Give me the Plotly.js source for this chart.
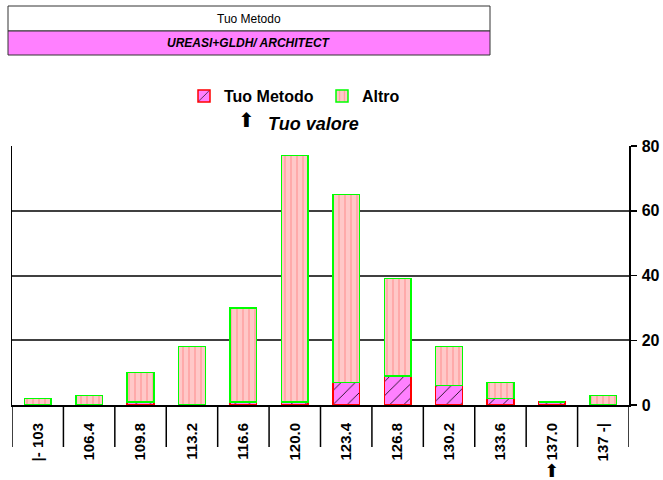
<!DOCTYPE html>
<html><head><meta charset="utf-8">
<script src="https://cdn.plot.ly/plotly-3.0.1.min.js"></script>
<style>body{margin:0;background:#fff}</style>
</head><body><div id="chart" style="width:663px;height:480px"></div>
<script>
const categories = ["|- 103","106.4","109.8","113.2","116.6","120.0","123.4","126.8","130.2","133.6","137.0","137 -|"];
const tuoMetodo = [0,0,1,0,1,1,7,9,6,2,1,0];
const altro = [2,3,9,18,29,76,58,30,12,5,0,3];
const yTicks = [0,20,40,60,80];
const seriesNames = ["Tuo Metodo","Altro"];
const methodTitle = "Tuo Metodo";
const methodName = "UREASI+GLDH/ ARCHITECT";
const yourValueLabel = "Tuo valore";
const yourValueCategory = "137.0";

const FONT = "Arial, 'Liberation Sans', sans-serif";
const W = 663, H = 480, L = 12, R = 34, T = 146, B = 75;
const pw = W - L - R, ph = H - T - B;
const px = x => (x - L) / pw;
const py = y => (H - B - y) / ph;

const traces = [
  {
    type: "bar", name: seriesNames[0], x: categories, y: tuoMetodo, width: 0.52,
    marker: {color: "#ff80ff", line: {color: "#ff0000", width: 1.5},
      pattern: {shape: "/", fgcolor: "#000000", bgcolor: "#ff80ff", size: 10, solidity: 0.08}},
    hoverinfo: "x+y+name"
  },
  {
    type: "bar", name: seriesNames[1], x: categories, y: altro, width: 0.52,
    marker: {color: "#ffc4c4", line: {color: "#00ff00", width: 1.5},
      pattern: {shape: "|", fgcolor: "#ffa0a0", bgcolor: "#ffc8c8", size: 6, solidity: 0.25}},
    hoverinfo: "x+y+name"
  }
];

// category boundary separators below the axis (in axis units)
const separators = [];
for (let i = 0; i <= categories.length; i++) {
  separators.push({type: "line", xref: "x", yref: "paper", x0: i - 0.5, x1: i - 0.5,
    y0: 0, y1: -42 / ph, line: {color: "#000", width: 1.5}});
}

const layout = {
  width: W, height: H,
  margin: {l: L, r: R, t: T, b: B, pad: 0},
  paper_bgcolor: "#ffffff", plot_bgcolor: "#ffffff",
  barmode: "stack",
  font: {family: FONT, color: "#000"},
  showlegend: true,
  legend: {orientation: "h", traceorder: "normal", x: px(184), xanchor: "left", y: py(96), yanchor: "middle",
    entrywidth: 93, entrywidthmode: "pixels",
    font: {family: FONT, size: 16, weight: "bold", color: "#000"}, bgcolor: "rgba(0,0,0,0)"},
  xaxis: {
    type: "category", categoryorder: "array", categoryarray: categories,
    range: [-0.5, categories.length - 0.5], autorange: false,
    showgrid: false, zeroline: false,
    showline: true, linecolor: "#000", linewidth: 2,
    ticks: "", ticklabelstandoff: 10,
    tickangle: -90, tickfont: {family: FONT, size: 15, weight: "bold", color: "#000"},
    fixedrange: true
  },
  yaxis: {
    side: "right", range: [0, 80], tickvals: yTicks, ticktext: yTicks.map(String),
    showgrid: true, gridcolor: "#404040", gridwidth: 2,
    zeroline: false, showline: true, linecolor: "#000", linewidth: 1.5, mirror: true,
    ticks: "outside", ticklen: 6, tickwidth: 1.5, tickcolor: "#000", ticklabelstandoff: 2,
    tickfont: {family: FONT, size: 16, weight: "bold", color: "#000"},
    fixedrange: true
  },
  shapes: [
    {type: "rect", xref: "paper", yref: "paper", x0: px(8), x1: px(490), y0: py(31), y1: py(6),
      fillcolor: "#ffffff", line: {color: "#333", width: 1}},
    {type: "rect", xref: "paper", yref: "paper", x0: px(8), x1: px(490), y0: py(55), y1: py(31),
      fillcolor: "#ff80ff", line: {color: "#333", width: 1}}
  ].concat(separators),
  annotations: [
    {xref: "paper", yref: "paper", x: px(249), y: py(18.5), text: methodTitle, showarrow: false,
      xanchor: "center", yanchor: "middle", font: {family: FONT, size: 12, color: "#000"}},
    {xref: "paper", yref: "paper", x: px(249), y: py(43), text: "<b><i>" + methodName + "</i></b>", showarrow: false,
      xanchor: "center", yanchor: "middle", font: {family: FONT, size: 12, color: "#000"}},
    {xref: "paper", yref: "paper", x: px(246.5), y: py(120), text: "⬆", showarrow: false,
      xanchor: "center", yanchor: "middle", font: {family: "DejaVu Sans", size: 20, color: "#000"}},
    {xref: "paper", yref: "paper", x: px(266), y: py(123.5), text: "<b><i>" + yourValueLabel + "</i></b>", showarrow: false,
      xanchor: "left", yanchor: "middle", font: {family: FONT, size: 18, color: "#000"}},
    {xref: "x", yref: "paper", x: categories.indexOf(yourValueCategory), y: py(470), text: "⬆", showarrow: false,
      xanchor: "center", yanchor: "middle", font: {family: "DejaVu Sans", size: 18, color: "#000"}}
  ]
};

Plotly.newPlot("chart", traces, layout, {displayModeBar: false, staticPlot: true});
</script>
</body></html>
